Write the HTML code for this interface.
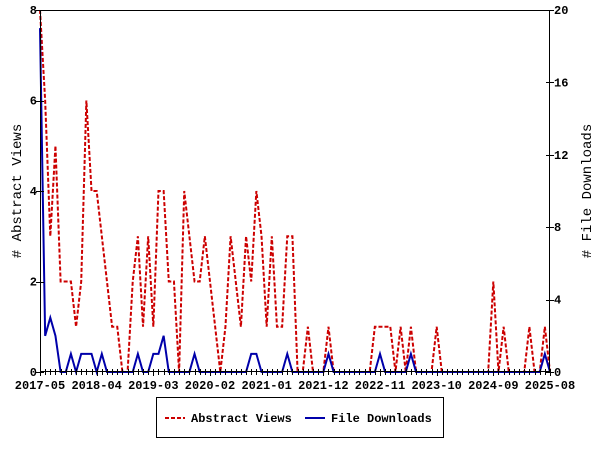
<!DOCTYPE html>
<html><head><meta charset="utf-8">
<style>
html,body{margin:0;padding:0;background:#fff;}
svg{display:block;}
text{font-family:"Liberation Mono","DejaVu Sans Mono",monospace;}
</style></head>
<body>
<svg id="chart" width="600" height="450" viewBox="0 0 600 450" xmlns="http://www.w3.org/2000/svg">
<g id="grid"></g>
<g id="series"></g>
<g id="axes"></g>
<g id="legend">
  <rect x="156.5" y="397.5" width="287" height="40" fill="#fff" stroke="#000" stroke-width="1"/>
  <g>
    <line x1="165" y1="418" x2="185" y2="418" stroke="#cc0000" stroke-width="2" stroke-dasharray="4,2"/>
    <text x="191" y="422" font-size="12" font-weight="bold">Abstract Views</text>
  </g>
  <g>
    <line x1="305" y1="418" x2="325" y2="418" stroke="#0000aa" stroke-width="2"/>
    <text x="331" y="422" font-size="12" font-weight="bold">File Downloads</text>
  </g>
</g>
</svg>
<script>
const startYear = 2017, startMonth = 5, monthCount = 100;
const views = [8,6,3,5,2,2,2,1,2,6,4,4,3,2,1,1,0,0,2,3,1,3,1,4,4,2,2,0,4,3,2,2,3,2,1,0,1,3,2,1,3,2,4,3,1,3,1,1,3,3,0,0,1,0,0,0,1,0,0,0,0,0,0,0,0,1,1,1,1,0,1,0,1,0,0,0,0,1,0,0,0,0,0,0,0,0,0,0,2,0,1,0,0,0,0,1,0,0,1,0];
const downloads = [19,2,3,2,0,0,1,0,1,1,1,0,1,0,0,0,0,0,0,1,0,0,1,1,2,0,0,0,0,0,1,0,0,0,0,0,0,0,0,0,0,1,1,0,0,0,0,0,1,0,0,0,0,0,0,0,1,0,0,0,0,0,0,0,0,0,1,0,0,0,0,0,1,0,0,0,0,0,0,0,0,0,0,0,0,0,0,0,0,0,0,0,0,0,0,0,0,0,1,0];
const leftTicks = [0,2,4,6,8];
const rightTicks = [0,4,8,12,16,20];
const xTickLabels = ["2017-05","2018-04","2019-03","2020-02","2021-01","2021-12","2022-11","2023-10","2024-09","2025-08"];

const L=40,R=550,T=10,B=372, leftMax=8, rightMax=20;
const NS="http://www.w3.org/2000/svg";
const xs=i=>L+(R-L)*i/(monthCount-1);
const yl=v=>B-(B-T)*v/leftMax;
const yr=v=>B-(B-T)*v/rightMax;
function mk(tag,attrs,parent){const e=document.createElementNS(NS,tag);for(const k in attrs)e.setAttribute(k,attrs[k]);parent.appendChild(e);return e;}
const ser=document.getElementById('series'), ax=document.getElementById('axes');

let p=views.map((v,i)=>(i?'L':'M')+xs(i).toFixed(2)+','+yl(v).toFixed(2)).join('');
const vl=mk('path',{d:p,fill:'none',stroke:'#cc0000','stroke-width':2,'stroke-dasharray':'4,2'},ser);


p=downloads.map((v,i)=>(i?'L':'M')+xs(i).toFixed(2)+','+yr(v).toFixed(2)).join('');
const dl=mk('path',{d:p,fill:'none',stroke:'#0000aa','stroke-width':2},ser);



const fr=mk('rect',{x:L+0.5,y:T+0.5,width:R-L-1,height:B-T-1,fill:'none',stroke:'#000','stroke-width':1},ax);



for(let i=0;i<monthCount;i++){
  const x=Math.round(xs(i))+0.5, major=i%11===0;
  mk('line',{x1:x,y1:B-3,x2:x,y2:B+(major?4:3),stroke:'#000','stroke-width':1},ax);
}
xTickLabels.forEach((lab,k)=>{
  const t=mk('text',{x:xs(k*11),y:389,'font-size':12,'font-weight':'bold','text-anchor':'middle'},ax);
  t.textContent=lab;
  
  
});
leftTicks.forEach(v=>{
  const y=Math.round(yl(v))+0.5;
  mk('line',{x1:L-4,y1:y,x2:L+4,y2:y,stroke:'#000'},ax);
  const t=mk('text',{x:L-3,y:yl(v)+4,'font-size':12,'font-weight':'bold','text-anchor':'end'},ax);
  t.textContent=v;
  
  
});
rightTicks.forEach(v=>{
  const y=Math.round(yr(v))+0.5;
  mk('line',{x1:R-4,y1:y,x2:R+4,y2:y,stroke:'#000'},ax);
  const t=mk('text',{x:R+4,y:yr(v)+4,'font-size':12,'font-weight':'bold','text-anchor':'start'},ax);
  t.textContent=v;
  
  
});
const ytl=mk('text',{x:0,y:0,'font-size':14,'text-anchor':'middle',transform:'translate(21,191) rotate(-90)'},ax);
ytl.textContent='# Abstract Views';


const ytr=mk('text',{x:0,y:0,'font-size':14,'text-anchor':'middle',transform:'translate(591,191) rotate(-90)'},ax);
ytr.textContent='# File Downloads';


</script>
</body></html>
